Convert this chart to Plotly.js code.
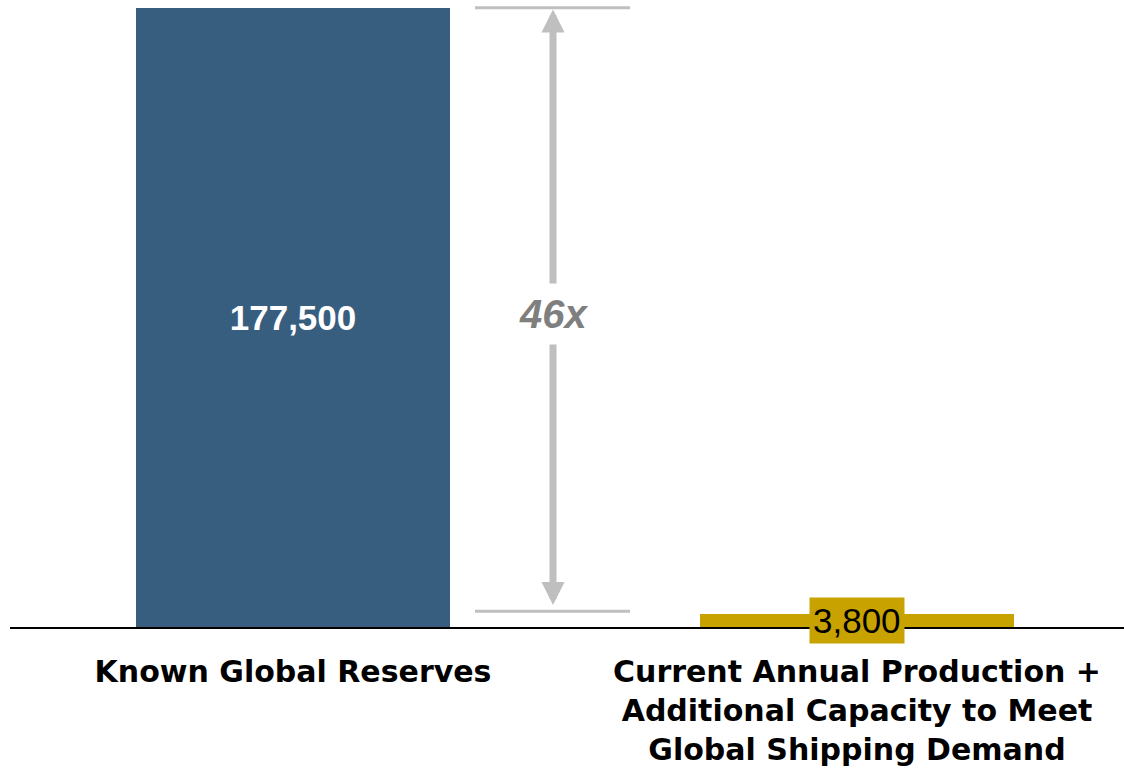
<!DOCTYPE html>
<html>
<head>
<meta charset="utf-8">
<script src="https://cdn.plot.ly/plotly-3.0.1.min.js"></script>
<style>html,body{margin:0;padding:0;background:#fff;}#chart{width:1124px;height:771px;}</style>
</head>
<body>
<div id="chart"></div>
<script>
// Data
const categories = ["Known Global Reserves", "Current Annual Production +<br>Additional Capacity to Meet<br>Global Shipping Demand"];
const values = [177500, 3800];
const valueLabels = ["177,500", "3,800"];
const barColors = ["#375E7E", "#C8A300"];
const ratioLabel = Math.floor(values[0] / values[1]) + "x";

const xIdx = [0, 1];
const arrowX = 0.461;
const midVal = (values[0] + values[1]) / 2;
const grey = "#BFBFBF";

const trace = {
  type: "bar",
  x: xIdx,
  y: values,
  width: 0.557,
  marker: {color: barColors},
  text: [valueLabels[0], ""],
  textposition: "inside",
  insidetextanchor: "middle",
  textfont: {family: "Liberation Sans, Arial, sans-serif", size: 35, color: "#ffffff", weight: "bold"},
  hoverinfo: "none",
  cliponaxis: false
};

const layout = {
  width: 1124, height: 771,
  margin: {l: 10, r: 0, t: 6, b: 144},
  paper_bgcolor: "#ffffff", plot_bgcolor: "#ffffff",
  showlegend: false,
  bargap: 0,
  xaxis: {
    range: [-0.5018, 1.4734],
    tickvals: xIdx, ticktext: categories,
    showgrid: false, zeroline: false,
    showline: true, linecolor: "#000000", linewidth: 2,
    ticks: "outside", ticklen: 17, tickcolor: "rgba(0,0,0,0)",
    tickfont: {family: "DejaVu Sans, sans-serif", size: 30, color: "#000000", weight: "bold"}
  },
  yaxis: {
    range: [0, 178000], visible: false, showgrid: false, zeroline: false
  },
  shapes: [
    {type: "line", xref: "x", yref: "y", x0: 0.3227, x1: 0.5975, y0: values[0], y1: values[0], line: {color: grey, width: 3}},
    {type: "line", xref: "x", yref: "y", x0: 0.3227, x1: 0.5975, y0: values[1] + 700, y1: values[1] + 700, line: {color: grey, width: 3}}
  ],
  annotations: [
    {x: arrowX, y: values[0] - 500, ax: arrowX, ay: midVal, xref: "x", yref: "y", axref: "x", ayref: "y",
     text: "", showarrow: true, arrowhead: 2, arrowsize: 0.66, arrowwidth: 7, arrowcolor: grey},
    {x: arrowX, y: values[1] + 2500, ax: arrowX, ay: midVal, xref: "x", yref: "y", axref: "x", ayref: "y",
     text: "", showarrow: true, arrowhead: 2, arrowsize: 0.66, arrowwidth: 7, arrowcolor: grey},
    {x: arrowX, y: midVal, xref: "x", yref: "y", yshift: -3, text: "<b><i>" + ratioLabel + "</i></b>", showarrow: false,
     bgcolor: "#ffffff", borderpad: 8,
     font: {family: "Liberation Sans, Arial, sans-serif", size: 40, color: "#7F7F7F"}},
    {x: 1, y: values[1] / 2, xref: "x", yref: "y", text: valueLabels[1], showarrow: false,
     bgcolor: barColors[1], borderpad: 3,
     font: {family: "Liberation Sans, Arial, sans-serif", size: 35, color: "#000000"}}
  ]
};

Plotly.newPlot("chart", [trace], layout, {displayModeBar: false, staticPlot: true});
</script>
</body>
</html>
